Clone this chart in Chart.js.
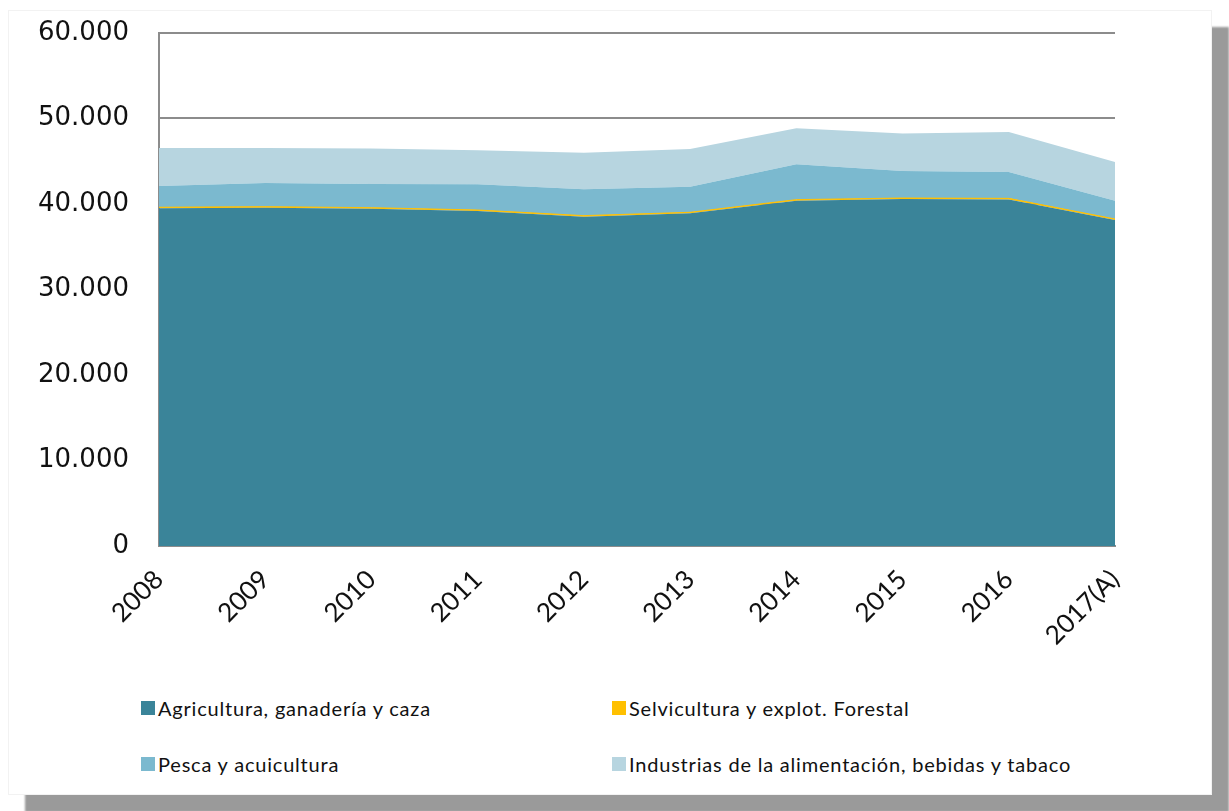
<!DOCTYPE html>
<html lang="es">
<head>
<meta charset="utf-8">
<title>VAB agroalimentario</title>
<script src="https://cdn.jsdelivr.net/npm/chart.js@4.4.1/dist/chart.umd.min.js"></script>
<style>
  html, body { margin: 0; padding: 0; background: #fff; }
  body { width: 1229px; height: 811px; position: relative; overflow: hidden; }
  .card {
    position: absolute; left: 8px; top: 10px; width: 1204px; height: 785px;
    background: #fff; box-shadow: 17px 17px 2px #9a9a9a;
    border: 1px solid #f2f2f2; box-sizing: border-box;
  }
  .chart-box { position: absolute; left: 0; top: 0; width: 1180px; height: 660px; }
  .legend { position: absolute; left: 0; top: 0; font-family: Lato, sans-serif; font-size: 20px; letter-spacing: 0.8px; color: #111; }
  .legend-item { position: absolute; white-space: nowrap; display: flex; align-items: center; }
  .legend-item span.box { width: 14px; height: 14px; margin-right: 3px; display: inline-block; }
</style>
</head>
<body>
<div class="card"></div>
<div class="chart-box"><canvas id="vab"></canvas></div>
<div class="legend" id="legend"></div>
<script>
// Años y series (millones de euros)
const years = ['2008', '2009', '2010', '2011', '2012', '2013', '2014', '2015', '2016', '2017(A)'];

const agricultura = [39500, 39570, 39450, 39180, 38520, 38910, 40390, 40580, 40540, 38130];
const selvicultura = [120, 120, 120, 120, 120, 120, 120, 120, 120, 120];
const pesca = [2480, 2770, 2770, 3000, 3080, 3000, 4130, 3160, 3080, 2140];
const industrias = [4450, 4090, 4140, 4000, 4280, 4400, 4210, 4390, 4680, 4520];

const yTicks = [0, 10000, 20000, 30000, 40000, 50000, 60000];

const series = [
  { label: 'Agricultura, ganadería y caza', data: agricultura, color: '#3a8499' },
  { label: 'Selvicultura y explot. Forestal', data: selvicultura, color: '#ffc000' },
  { label: 'Pesca y acuicultura', data: pesca, color: '#7bb9cf' },
  { label: 'Industrias de la alimentación, bebidas y tabaco', data: industrias, color: '#b7d5e0' }
];

const ctx = document.getElementById('vab').getContext('2d');
new Chart(ctx, {
  type: 'line',
  data: {
    labels: years,
    datasets: series.map((s, i) => ({
      label: s.label,
      data: s.data,
      backgroundColor: s.color,
      borderColor: s.color,
      borderWidth: i === 1 ? 1 : 0,
      pointRadius: 0,
      tension: 0,
      fill: i === 0 ? 'origin' : '-1'
    }))
  },
  options: {
    responsive: true,
    maintainAspectRatio: false,
    animation: false,
    layout: { padding: { top: 33, right: 65, left: 0, bottom: 0 } },
    plugins: { legend: { display: false }, tooltip: { enabled: false } },
    scales: {
      x: {
        offset: false,
        grid: { display: false, drawTicks: false },
        border: { display: true, color: '#8c8c8c', width: 2 },
        ticks: {
          minRotation: 45, maxRotation: 45, padding: 18,
          color: '#111', font: { family: 'Lato', size: 26 }
        },
        afterFit: scale => {
          scale.height = 114;
          scale.paddingLeft = 0;
          scale.paddingRight = 0;
        }
      },
      y: {
        stacked: true,
        min: 0, max: 60000,
        afterBuildTicks: scale => { scale.ticks = yTicks.map(v => ({ value: v })); },
        grid: { color: '#8c8c8c', lineWidth: 2, drawTicks: false },
        border: { display: true, color: '#8c8c8c', width: 2 },
        ticks: {
          padding: 30, color: '#111',
          font: { family: 'DejaVu Sans', size: 26 },
          callback: v => v.toLocaleString('de-DE')
        },
        afterFit: scale => {
          // la separación de las etiquetas no debe empujar el área hacia abajo
          scale.width = 159;
          scale.paddingTop = 0;
          scale.paddingBottom = 0;
        }
      }
    }
  }
});

// Leyenda en dos columnas
const legendPos = [[141, 696], [612, 696], [141, 752], [612, 752]];
const legend = document.getElementById('legend');
series.forEach((s, i) => {
  const item = document.createElement('div');
  item.className = 'legend-item';
  item.style.left = legendPos[i][0] + 'px';
  item.style.top = legendPos[i][1] + 'px';
  item.innerHTML = '<span class="box" style="background:' + s.color + '"></span>' + s.label;
  legend.appendChild(item);
});
</script>
</body>
</html>
